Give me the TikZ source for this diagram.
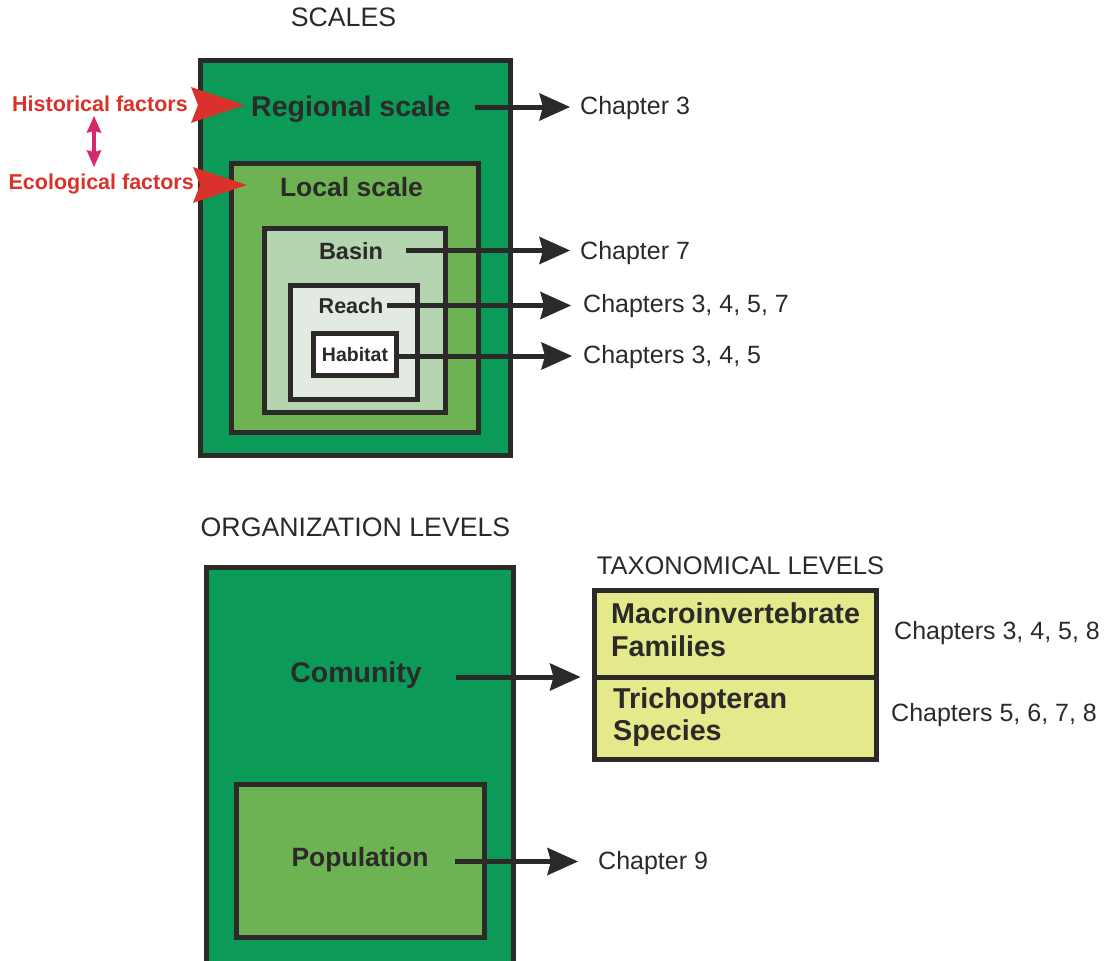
\documentclass[tikz,border=0pt]{standalone}
\usepackage{fontspec}
\setmainfont{Liberation Sans}
\usetikzlibrary{arrows.meta}
\definecolor{ink}{RGB}{43,42,41}
\definecolor{dgreen}{RGB}{12,154,89}
\definecolor{mgreen}{RGB}{109,179,83}
\definecolor{lgreen}{RGB}{181,212,176}
\definecolor{pgreen}{RGB}{227,234,226}
\definecolor{ylw}{RGB}{228,233,140}
\definecolor{fred}{RGB}{218,50,42}
\definecolor{mag}{RGB}{214,40,106}
\newcommand{\fs}[1]{\fontsize{#1}{#1}\selectfont}
\begin{document}
\begin{tikzpicture}[x=1pt,y=-1pt,
  box/.style={draw=ink,line width=5pt,inner sep=0pt,outer sep=0pt},
  lbl/.style={inner sep=0pt,anchor=base,text=ink},
  head/.style={inner sep=0pt,anchor=base,text=ink,font=\fs{26.7}},
  chap/.style={inner sep=0pt,anchor=base west,text=ink,font=\fs{25}},
  arr/.style={draw=ink,line width=5pt,-{Stealth[length=31pt,width=28pt,inset=4pt,line width=0pt]}},
  magarr/.style={draw=mag,line width=4pt,{Stealth[length=17pt,width=15pt,inset=2pt,line width=0pt]}-{Stealth[length=17pt,width=15pt,inset=2pt,line width=0pt]}},
  redtxt/.style={inner sep=0pt,anchor=base east,text=fred,font=\bfseries\fs{21.5}},
  redhead/.pic={\fill[fred] (0,0) .. controls (-18,-6) and (-40,-13) .. (-54,-18)
      .. controls (-50,-9) .. (-47,0) .. controls (-50,9) .. (-54,18)
      .. controls (-40,13) and (-18,6) .. (0,0) -- cycle;}
]
\useasboundingbox (0,0) rectangle (1114,961);

% ---------- SCALES ----------
\node[head] (scales) at (343.5,27) {SCALES};
\node[box,fill=dgreen,minimum width=310pt,minimum height=395pt] (regbox) at (355.5,258) {};
\node[box,fill=mgreen,minimum width=247pt,minimum height=269pt] (locbox) at (355,298) {};
\node[box,fill=lgreen,minimum width=181pt,minimum height=184pt] (basbox) at (355,320.5) {};
\node[box,fill=pgreen,minimum width=127pt,minimum height=114pt] (reabox) at (354,342.5) {};
\node[box,fill=white,minimum width=83pt,minimum height=42pt] (habbox) at (355,354.5) {};

\node[lbl,font=\bfseries\fs{28.5}] (regl) at (351,116) {Regional scale};
\node[lbl,font=\bfseries\fs{26.5}] (locl) at (351.5,196) {Local scale};
\node[lbl,font=\bfseries\fs{23.5}] (basl) at (351,259) {Basin};
\node[lbl,font=\bfseries\fs{21.5}] (real) at (351,313) {Reach};
\node[lbl,font=\bfseries\fs{19.5}] (habl) at (355,361.5) {Habitat};

\node[chap] (ch3) at (580,114) {Chapter 3};
\node[chap] (ch7) at (580,259) {Chapter 7};
\node[chap] (ch3457) at (583,312) {Chapters 3, 4, 5, 7};
\node[chap] (ch345) at (583,363) {Chapters 3, 4, 5};

\coordinate (s1) at (475,107);
\coordinate (s2) at (406,250.5);
\coordinate (s3) at (387,305.5);
\coordinate (s4) at (394,356);
\draw[arr,shorten >=10pt] (s1) -- (s1 -| ch3.west);
\draw[arr,shorten >=10pt] (s2) -- (s2 -| ch7.west);
\draw[arr,shorten >=12pt] (s3) -- (s3 -| ch3457.west);
\draw[arr,shorten >=11pt] (s4) -- (s4 -| ch345.west);

% factors
\node[redtxt] (hist) at (188,111) {Historical factors};
\node[redtxt] (eco) at (194,189) {Ecological factors};
\coordinate (htip) at (245,105);
\coordinate (etip) at (247,185);
\pic at (htip) {redhead};
\pic at (etip) {redhead};
\coordinate (m1) at (94,116);
\coordinate (m2) at (94,167);
\draw[magarr] (m1) -- (m2);

% ---------- ORGANIZATION LEVELS ----------
\node[head] (org) at (355.5,536) {ORGANIZATION LEVELS};
\node[box,fill=dgreen,minimum width=307pt,minimum height=396.5pt] (combox) at (360,765.75) {};
\node[box,fill=mgreen,minimum width=248pt,minimum height=153pt] (popbox) at (360.5,861) {};
\node[lbl,font=\bfseries\fs{28.5}] (coml) at (356,682) {Comunity};
\node[lbl,font=\bfseries\fs{26.5}] (popl) at (360,866) {Population};

\node[head,font=\fs{25.5}] (tax) at (740.5,574) {TAXONOMICAL LEVELS};
\node[box,fill=ylw,minimum width=282pt,minimum height=86.5pt] (famb) at (735.5,633.75) {};
\node[box,fill=ylw,minimum width=282pt,minimum height=82.5pt] (spb) at (735.5,718.25) {};
\node[inner sep=0pt,anchor=north west,align=left,text=ink,font=\bfseries\fontsize{28.7}{33.5}\selectfont] (faml) at (611,602) {Macroinvertebrate\\Families};
\node[inner sep=0pt,anchor=north west,align=left,text=ink,font=\bfseries\fontsize{28.7}{32.5}\selectfont] (spl) at (613,687) {Trichopteran\\Species};

\node[chap] (ch3458) at (894,639) {Chapters 3, 4, 5, 8};
\node[chap] (ch5678) at (891,721) {Chapters 5, 6, 7, 8};
\node[chap] (ch9) at (598,869) {Chapter 9};

\coordinate (s5) at (456,677);
\coordinate (s6) at (455,861.5);
\draw[arr,shorten >=14pt] (s5) -- (s5 -| famb.west);
\draw[arr,shorten >=20pt] (s6) -- (s6 -| ch9.west);
\end{tikzpicture}
\end{document}
